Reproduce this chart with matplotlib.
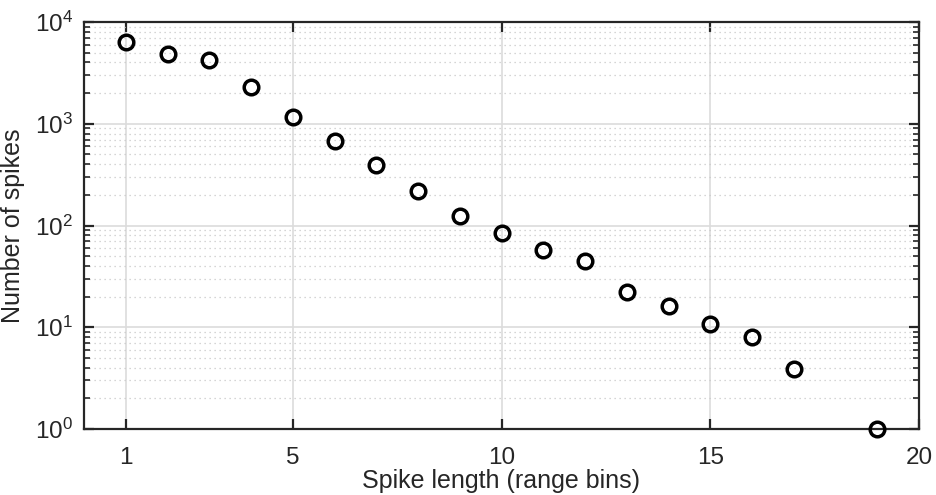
import matplotlib
matplotlib.use("Agg")
import matplotlib.pyplot as plt
import numpy as np
from matplotlib.ticker import LogLocator, NullFormatter

# spike length (range bins) and counts
spike_length = [1, 2, 3, 4, 5, 6, 7, 8, 9, 10, 11, 12, 13, 14, 15, 16, 17, 19]
num_spikes = [6400, 4900, 4200, 2300, 1170, 680, 390, 220, 125, 84,
              58, 45, 22, 16, 10.8, 8.1, 3.9, 1]

plt.rcParams["font.family"] = ["Liberation Sans", "DejaVu Sans"]

fig = plt.figure(figsize=(9.37, 4.95), dpi=100)
ax = fig.add_axes([84 / 937, 1 - 429 / 495, (919 - 84) / 937, (429 - 22) / 495])

ax.semilogy(spike_length, num_spikes, linestyle="none", marker="o",
            markersize=10.5, markerfacecolor="none", markeredgecolor="black",
            markeredgewidth=2.5, clip_on=False, zorder=5)

ax.set_xlim(0, 20)
ax.set_ylim(1, 1e4)
ax.set_xticks([1, 5, 10, 15, 20])
ax.yaxis.set_major_locator(LogLocator(base=10, numticks=10))
ax.yaxis.set_minor_locator(LogLocator(base=10, subs=np.arange(2, 10), numticks=10))
ax.yaxis.set_minor_formatter(NullFormatter())

ax.grid(which="major", color="#dcdcdc", linewidth=1.2, linestyle="-")
ax.grid(which="minor", axis="y", color="#c8c8c8", linewidth=0.9,
        linestyle=(0, (1, 3)))
ax.set_axisbelow(True)

for s in ax.spines.values():
    s.set_linewidth(1.6)
    s.set_color("#262626")

ax.tick_params(which="both", direction="in", top=True, right=True,
               color="#262626", labelsize=17.5, labelcolor="#262626")
ax.tick_params(which="major", length=7, width=1.6)
ax.tick_params(which="minor", length=4, width=1.2)
ax.tick_params(axis="x", pad=13)
ax.tick_params(axis="y", pad=8)

ax.set_xlabel("Spike length (range bins)", fontsize=18, color="#262626",
              labelpad=0)
ax.set_ylabel("Number of spikes", fontsize=18, color="#262626")
ax.yaxis.set_label_coords(-59 / 835, 0.5)

fig.savefig("out.png", dpi=100)
